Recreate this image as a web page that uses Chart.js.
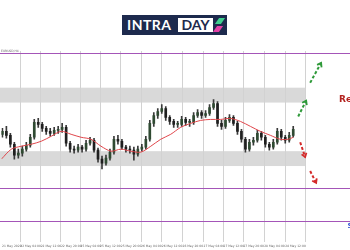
<!DOCTYPE html>
<html>
<head>
<meta charset="utf-8">
<script src="https://cdn.jsdelivr.net/npm/chart.js@4/dist/chart.umd.min.js"></script>
<style>
    body { margin: 0; background: #ffffff; }
    #wrap { position: relative; width: 350px; height: 250px; overflow: hidden; }
    #grafico { position: absolute; left: 0; top: 0; }
    #logo {
        position: absolute; left: 122px; top: 15px; width: 105px; height: 20px;
        background: #1d2a4d; font-family: Lato, "DejaVu Sans", sans-serif;
        font-weight: bold; font-size: 14px; line-height: 20px; letter-spacing: 0.5px;
    }
    #logo .intra { position: absolute; left: 5px; top: 0; color: #ffffff; }
    #logo .day {
        position: absolute; left: 56px; top: 3px; width: 35px; height: 14px; line-height: 14px;
        text-align: center; background: #ffffff; color: #1d2a4d; letter-spacing: 0;
    }
    #logo .up { position: absolute; left: 95px; top: 3px; width: 6px; height: 6px; background: #3fcf8e; transform: skewX(-35deg); }
    #logo .down { position: absolute; left: 93px; top: 11px; width: 6px; height: 6px; background: #e33fa6; transform: skewX(-35deg); }
</style>
</head>
<body>
<div id="wrap">
    <canvas id="grafico" width="350" height="250"></canvas>
    <div id="logo"><span class="intra">INTRA</span><span class="day">DAY</span><span class="up"></span><span class="down"></span></div>
</div>
<script>
// candles, one per bar index (open = previous close)
var firstOpen = 1.1130;
var closes = [
    1.1136, 1.1128, 1.1110, 1.1088, 1.1092, 1.1100, 1.1108, 1.1124, 1.1154, 1.1150,
    1.1142, 1.1136, 1.1132, 1.1138, 1.1140, 1.1144, 1.1112, 1.1100, 1.1098, 1.1104,
    1.1100, 1.1112, 1.1118, 1.1098, 1.1080, 1.1072, 1.1082, 1.1094, 1.1120, 1.1116,
    1.1104, 1.1100, 1.1098, 1.1090, 1.1100, 1.1104, 1.1120, 1.1152, 1.1168, 1.1176,
    1.1182, 1.1164, 1.1156, 1.1150, 1.1150, 1.1160, 1.1154, 1.1154, 1.1168, 1.1174,
    1.1168, 1.1172, 1.1184, 1.1192, 1.1152, 1.1146, 1.1158, 1.1164, 1.1152, 1.1136,
    1.1120, 1.1100, 1.1114, 1.1118, 1.1132, 1.1124, 1.1110, 1.1104, 1.1114, 1.1136,
    1.1124, 1.1118, 1.1128, 1.1140
];
var highs = [
    1.1142, 1.1146, 1.1132, 1.1114, 1.1100, 1.1106, 1.1114, 1.1130, 1.1160, 1.1162,
    1.1154, 1.1146, 1.1142, 1.1144, 1.1146, 1.1152, 1.1148, 1.1116, 1.1106, 1.1110,
    1.1108, 1.1118, 1.1124, 1.1122, 1.1102, 1.1086, 1.1088, 1.1100, 1.1126, 1.1128,
    1.1120, 1.1108, 1.1106, 1.1104, 1.1106, 1.1110, 1.1126, 1.1158, 1.1174, 1.1182,
    1.1190, 1.1186, 1.1168, 1.1160, 1.1156, 1.1166, 1.1164, 1.1160, 1.1174, 1.1180,
    1.1178, 1.1178, 1.1190, 1.1200, 1.1196, 1.1158, 1.1164, 1.1170, 1.1168, 1.1156,
    1.1140, 1.1124, 1.1120, 1.1124, 1.1138, 1.1136, 1.1128, 1.1114, 1.1120, 1.1142,
    1.1140, 1.1128, 1.1134, 1.1146
];
var lows = [
    1.1124, 1.1122, 1.1104, 1.1080, 1.1082, 1.1086, 1.1096, 1.1104, 1.1120, 1.1144,
    1.1136, 1.1130, 1.1126, 1.1128, 1.1132, 1.1134, 1.1106, 1.1094, 1.1092, 1.1094,
    1.1094, 1.1096, 1.1108, 1.1094, 1.1074, 1.1060, 1.1068, 1.1078, 1.1090, 1.1110,
    1.1100, 1.1094, 1.1092, 1.1078, 1.1086, 1.1096, 1.1100, 1.1116, 1.1146, 1.1162,
    1.1172, 1.1158, 1.1150, 1.1144, 1.1144, 1.1146, 1.1148, 1.1146, 1.1150, 1.1164,
    1.1162, 1.1164, 1.1168, 1.1180, 1.1146, 1.1140, 1.1142, 1.1154, 1.1148, 1.1130,
    1.1114, 1.1094, 1.1096, 1.1108, 1.1114, 1.1118, 1.1104, 1.1098, 1.1100, 1.1110,
    1.1118, 1.1112, 1.1114, 1.1124
];

// moving average (red)
var maX = [-0.25, 2.25, 4.75, 7.25, 9.75, 12.25, 14.75, 17.25, 19.75, 22.25, 24.75, 27.25, 29.75, 32.25, 34.75,
    37.25, 39.75, 42.25, 44.75, 47.25, 49.75, 52.25, 54.75, 57.25, 59.75, 62.25, 64.75, 67.25, 69.75, 71.75, 73];
var maY = [1.1080, 1.1100, 1.1106, 1.1110, 1.1116, 1.1126, 1.1136, 1.1130, 1.1124, 1.1120, 1.1106, 1.1096, 1.1100, 1.1096, 1.1094,
    1.1106, 1.1120, 1.1130, 1.1144, 1.1152, 1.1158, 1.1160, 1.1160, 1.1162, 1.1156, 1.1146, 1.1136, 1.1128, 1.1120, 1.1120, 1.1124];

// grey zones and purple levels
var zoneTop = [1.1224, 1.1096];
var zoneBottom = [1.1194, 1.1066];
var zoneEnd = 76;
var levels = [1.1294, 1.1022, 1.0956];

// arrows: [x0, y0, x1, y1]
var greenArrows = [[74.25, 1.1166, 76.25, 1.1198], [77.25, 1.1234, 80, 1.1274]];
var redArrows = [[74.75, 1.1114, 76, 1.1084], [77.25, 1.1056, 78.75, 1.1032]];

// notes on the right
var noteText = ['Resistance', 'Support'];
var noteX = [84.5, 86.6];
var noteY = [1.1196, 1.0942];

// time axis
var xTicks = [-0.1, 4.5, 9.6, 14.7, 19.6, 24.5, 29.7, 34.8, 40, 45.2, 50.5, 55.5, 60.5, 65.7, 71, 76];
var xLabels = ['21 May 2020', '22 May 04:00', '22 May 12:00', '22 May 20:00', '25 May 04:00', '25 May 12:00',
    '25 May 20:00', '26 May 04:00', '26 May 12:00', '26 May 20:00', '27 May 04:00', '27 May 12:00',
    '27 May 20:00', '28 May 04:00', '28 May 12:00', ''];
var symbolText = 'EURUSD,H4';

var bodies = [];
var wicks = [];
for (var i = 0; i < closes.length; i++) {
    var o = i ? closes[i - 1] : firstOpen;
    bodies.push({ x: i, y: [o, closes[i]] });
    wicks.push({ x: i, y: [lows[i], highs[i]] });
}

var ma = [];
for (var j = 0; j < maX.length; j++) {
    ma.push({ x: maX[j], y: maY[j] });
}

function arrowSets(list, color) {
    var out = [];
    for (var k = 0; k < list.length; k++) {
        var a = list[k];
        out.push({
            type: 'line',
            data: [{ x: a[0], y: a[1] }, { x: a[2], y: a[3] }],
            borderColor: color,
            borderWidth: 2,
            borderDash: [3, 2],
            pointRadius: 0,
            arrow: true,
            order: 0
        });
    }
    return out;
}

var extras = {
    id: 'extras',
    beforeDraw: function (chart) {
        var ctx = chart.ctx;
        var x = chart.scales.x;
        var y = chart.scales.y;
        ctx.save();
        ctx.fillStyle = '#d9d9d9';
        for (var k = 0; k < zoneTop.length; k++) {
            var top = y.getPixelForValue(zoneTop[k]);
            var bot = y.getPixelForValue(zoneBottom[k]);
            ctx.fillRect(0, top, x.getPixelForValue(zoneEnd), bot - top);
        }
        ctx.restore();
    },
    afterDatasetsDraw: function (chart) {
        var ctx = chart.ctx;
        var x = chart.scales.x;
        var y = chart.scales.y;
        ctx.save();

        ctx.strokeStyle = '#a455b8';
        ctx.lineWidth = 1;
        for (var k = 0; k < levels.length; k++) {
            var py = Math.round(y.getPixelForValue(levels[k])) + 0.5;
            ctx.beginPath();
            ctx.moveTo(0, py);
            ctx.lineTo(chart.width, py);
            ctx.stroke();
        }

        // arrow heads
        chart.data.datasets.forEach(function (ds, idx) {
            if (!ds.arrow) return;
            var pts = chart.getDatasetMeta(idx).data;
            var p0 = pts[0], p1 = pts[1];
            var ang = Math.atan2(p1.y - p0.y, p1.x - p0.x);
            ctx.strokeStyle = ds.borderColor;
            ctx.lineWidth = 1.8;
            ctx.setLineDash([]);
            ctx.beginPath();
            ctx.moveTo(p1.x - 4.5 * Math.cos(ang - 0.6), p1.y - 4.5 * Math.sin(ang - 0.6));
            ctx.lineTo(p1.x, p1.y);
            ctx.lineTo(p1.x - 4.5 * Math.cos(ang + 0.6), p1.y - 4.5 * Math.sin(ang + 0.6));
            ctx.stroke();
        });

        ctx.font = 'bold 9px "DejaVu Sans", sans-serif';
        ctx.fillStyle = '#b3231f';
        ctx.fillText(noteText[0], x.getPixelForValue(noteX[0]), y.getPixelForValue(noteY[0]));
        ctx.font = 'bold 7px "DejaVu Sans", sans-serif';
        ctx.fillStyle = '#3b5bd6';
        ctx.fillText(noteText[1], x.getPixelForValue(noteX[1]), y.getPixelForValue(noteY[1]));

        ctx.font = '3px "DejaVu Sans", sans-serif';
        ctx.fillStyle = '#666666';
        ctx.fillText(symbolText, 1, chart.chartArea.top + 1);
        ctx.restore();
    }
};

new Chart(document.getElementById('grafico'), {
    type: 'bar',
    data: {
        datasets: [
            {
                type: 'line',
                data: ma,
                borderColor: '#e0474c',
                borderWidth: 1,
                pointRadius: 0,
                tension: 0.3,
                order: 1
            },
            {
                data: bodies,
                backgroundColor: function (c) {
                    var v = c.raw && c.raw.y;
                    return v && v[1] >= v[0] ? '#2f4a32' : '#1f1f1f';
                },
                barThickness: 2,
                grouped: false,
                minBarLength: 1,
                order: 2
            },
            {
                data: wicks,
                backgroundColor: '#3a3a3a',
                barThickness: 1,
                grouped: false,
                order: 3
            }
        ].concat(arrowSets(greenArrows, '#2f9a3a')).concat(arrowSets(redArrows, '#d42a2a'))
    },
    options: {
        responsive: false,
        devicePixelRatio: 1,
        animation: false,
        layout: { padding: { top: 51, left: 0, right: 0, bottom: 0 } },
        plugins: { legend: { display: false }, tooltip: { enabled: false } },
        scales: {
            x: {
                type: 'linear',
                min: -0.25,
                max: 87.25,
                offset: false,
                afterBuildTicks: function (scale) {
                    scale.ticks = xTicks.map(function (v) { return { value: v }; });
                },
                grid: {
                    offset: false,
                    drawTicks: false,
                    color: function (c) { return c.index === 0 ? 'rgba(0,0,0,0)' : '#d2d2d2'; }
                },
                border: { display: false },
                ticks: {
                    autoSkip: false,
                    maxRotation: 0,
                    align: 'start',
                    padding: 2,
                    color: '#666666',
                    font: { size: 3, family: '"DejaVu Sans", sans-serif' },
                    callback: function (v, idx) { return xLabels[idx]; }
                }
            },
            y: {
                display: false,
                min: 1.0912,
                max: 1.1298
            }
        }
    },
    plugins: [extras]
});
</script>
</body>
</html>
